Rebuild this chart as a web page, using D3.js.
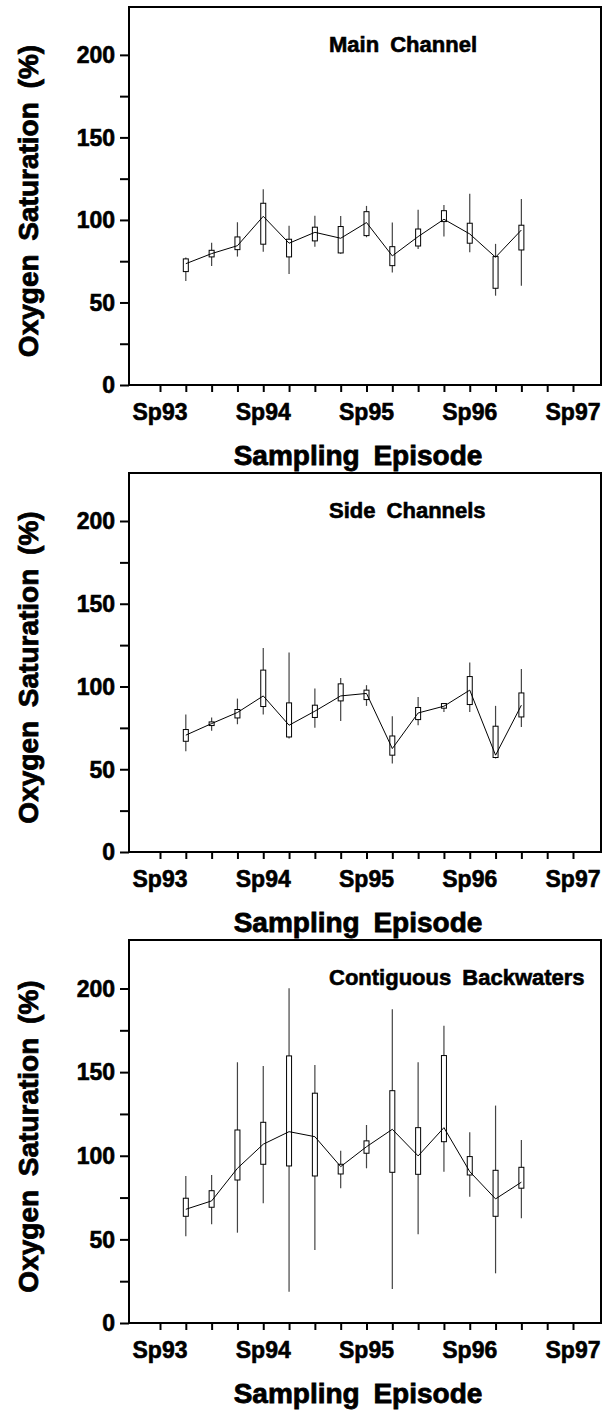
<!DOCTYPE html>
<html lang="en">
  <head>
    <meta charset="utf-8">
    <title>Oxygen saturation</title>
    <script src="https://cdn.jsdelivr.net/npm/d3@7"></script>
    <style>
      body { margin: 0; background: #fff; }
      text {
        font-family: "Liberation Sans", Arial, sans-serif;
        font-weight: bold;
        fill: #000;
        stroke: #000;
      }
      .tick-label { font-size: 23px; stroke-width: 0.6px; }
      .title { font-size: 22px; word-spacing: 5px; stroke-width: 0.6px; }
      .axis-title { font-size: 28px; word-spacing: 6px; stroke-width: 0.8px; }
    </style>
  </head>
  <body>
    <script>
      // sampling episodes, as quarter index after Sp93 (0 = Sp93)
      var episodes = [1, 2, 3, 4, 5, 6, 7, 8, 9, 10, 11, 12, 13, 14];
      var xTickLabels = ["Sp93", "Sp94", "Sp95", "Sp96", "Sp97"];
      var xTickValues = [0, 4, 8, 12, 16];
      var yTickLabels = [0, 50, 100, 150, 200];

      var titles = ["Main Channel", "Side Channels", "Contiguous Backwaters"];

      // Main Channel
      var mainMean = [73.5, 79.6, 84.4, 102.2, 85.9, 92.5, 88.9, 98.4, 78.2, 89.9, 100.4, 91.5, 77.4, 93.9];
      var mainLo   = [68.7, 77.6, 82.0, 85.3, 77.6, 87.3, 80.0, 90.5, 72.3, 84.2, 99.0, 85.9, 58.6, 81.8];
      var mainHi   = [76.4, 81.6, 89.7, 110.1, 88.3, 95.6, 96.0, 105.0, 83.8, 94.5, 105.6, 98.0, 77.8, 96.8];
      var mainMin  = [63.0, 72.1, 77.8, 80.8, 67.3, 83.8, 79.5, 89.5, 68.1, 82.4, 89.9, 80.4, 54.1, 60.2];
      var mainMax  = [77.2, 86.2, 98.6, 118.6, 96.5, 102.6, 102.4, 108.5, 98.4, 106.1, 109.1, 115.8, 85.5, 112.7];

      // Side Channels
      var sideMean = [70.6, 77.6, 84.3, 94.3, 76.6, 85.1, 94.3, 95.8, 62.5, 84.0, 88.1, 97.8, 58.5, 88.7];
      var sideLo   = [66.9, 76.4, 81.0, 87.9, 69.5, 81.3, 91.3, 92.1, 58.5, 80.0, 86.9, 89.1, 57.1, 81.6];
      var sideHi   = [74.0, 78.6, 86.1, 109.9, 90.1, 88.7, 101.6, 97.8, 70.1, 87.3, 89.7, 106.0, 76.0, 96.1];
      var sideMin  = [60.9, 73.2, 77.2, 83.1, 68.6, 75.0, 79.2, 88.3, 53.4, 76.6, 84.6, 84.6, 56.5, 75.6];
      var sideMax  = [83.1, 81.3, 92.7, 123.3, 120.6, 98.8, 105.2, 100.8, 82.0, 93.7, 90.1, 114.5, 88.3, 110.5];

      // Contiguous Backwaters
      var backMean = [68.0, 73.0, 92.5, 106.9, 114.4, 111.4, 93.5, 105.4, 115.8, 99.9, 116.8, 90.5, 74.2, 84.2];
      var backLo   = [63.8, 69.2, 85.5, 94.9, 93.9, 87.9, 89.1, 101.5, 90.1, 88.9, 108.4, 88.5, 63.8, 80.6];
      var backHi   = [74.6, 79.1, 115.4, 120.0, 159.7, 137.4, 94.9, 108.9, 138.9, 116.8, 159.9, 99.5, 91.3, 93.1];
      var backMin  = [51.9, 59.0, 54.0, 71.6, 18.7, 43.7, 80.6, 92.5, 20.3, 53.1, 90.5, 75.5, 29.7, 62.6];
      var backMax  = [87.9, 88.5, 155.9, 153.7, 200.2, 154.3, 103.0, 118.4, 187.6, 155.9, 177.8, 114.1, 130.0, 109.4];

      var series = [
        [mainMean, mainLo, mainHi, mainMin, mainMax],
        [sideMean, sideLo, sideHi, sideMin, sideMax],
        [backMean, backLo, backHi, backMin, backMax]
      ];

      var w = 603;
      var h = 1414;
      var left = 129, right = 601;
      var panelTop = [7, 473, 940];
      var panelBottom = [385, 852, 1323];
      var yMax = 229;

      var svg = d3.select("body")
                  .append("svg")
                  .attr("width", w)
                  .attr("height", h);

      var xScale = d3.scaleLinear()
                     .domain([0, 16])
                     .range([160, 573]);

      series.forEach(function (s, p) {
        var top = panelTop[p], bottom = panelBottom[p];
        var yScale = d3.scaleLinear()
                       .domain([0, yMax])
                       .range([bottom, top]);

        var rows = episodes.map(function (e, i) {
          return {x: e, mean: s[0][i], lo: s[1][i], hi: s[2][i], min: s[3][i], max: s[4][i]};
        });

        var g = svg.append("g");

        // frame
        g.append("rect")
         .attr("x", left)
         .attr("y", top)
         .attr("width", right - left)
         .attr("height", bottom - top)
         .attr("fill", "none")
         .attr("stroke", "#000")
         .attr("stroke-width", 2);

        // x axis ticks (every quarter)
        var xAxis = d3.axisBottom(xScale)
                      .tickValues(d3.range(0, 17))
                      .tickSize(7)
                      .tickFormat("");
        g.append("g")
         .attr("transform", "translate(0," + bottom + ")")
         .call(xAxis)
         .call(function (a) {
           a.select(".domain").remove();
           a.selectAll("line").attr("stroke", "#000").attr("stroke-width", 2);
         });

        g.selectAll(".xlab")
         .data(xTickValues)
         .enter()
         .append("text")
         .attr("class", "tick-label")
         .attr("x", function (d) { return xScale(d); })
         .attr("y", bottom + 35)
         .attr("text-anchor", "middle")
         .text(function (d, i) { return xTickLabels[i]; });

        // y axis ticks
        var yAxis = d3.axisLeft(yScale)
                      .tickValues(d3.range(0, 201, 25))
                      .tickSize(9)
                      .tickFormat("");
        g.append("g")
         .attr("transform", "translate(" + left + ",0)")
         .call(yAxis)
         .call(function (a) {
           a.select(".domain").remove();
           a.selectAll("line").attr("stroke", "#000").attr("stroke-width", 2);
         });

        g.selectAll(".ylab")
         .data(yTickLabels)
         .enter()
         .append("text")
         .attr("class", "tick-label")
         .attr("x", 115)
         .attr("y", function (d) { return yScale(d); })
         .attr("dy", "0.36em")
         .attr("text-anchor", "end")
         .text(function (d) { return d; });

        // whiskers
        g.selectAll(".whisker")
         .data(rows)
         .enter()
         .append("line")
         .attr("x1", function (d) { return xScale(d.x); })
         .attr("x2", function (d) { return xScale(d.x); })
         .attr("y1", function (d) { return yScale(d.min); })
         .attr("y2", function (d) { return yScale(d.max); })
         .attr("stroke", "#444")
         .attr("stroke-width", 1.2);

        // boxes
        g.selectAll(".box")
         .data(rows)
         .enter()
         .append("rect")
         .attr("x", function (d) { return xScale(d.x) - 2.5; })
         .attr("y", function (d) { return yScale(d.hi); })
         .attr("width", 5)
         .attr("height", function (d) { return yScale(d.lo) - yScale(d.hi); })
         .attr("fill", "#fff")
         .attr("stroke", "#000")
         .attr("stroke-width", 1);

        // mean line
        var line = d3.line()
                     .x(function (d) { return xScale(d.x); })
                     .y(function (d) { return yScale(d.mean); });
        g.append("path")
         .datum(rows)
         .attr("d", line)
         .attr("fill", "none")
         .attr("stroke", "#000")
         .attr("stroke-width", 1);

        // panel title
        g.append("text")
         .attr("class", "title")
         .attr("x", 329)
         .attr("y", top + 45)
         .text(titles[p]);

        // axis titles
        g.append("text")
         .attr("class", "axis-title")
         .attr("text-anchor", "middle")
         .attr("x", 358)
         .attr("y", bottom + 80)
         .text("Sampling Episode");

        g.append("text")
         .attr("class", "axis-title")
         .attr("text-anchor", "middle")
         .attr("transform", "translate(38," + ((top + bottom) / 2 + 5) + ") rotate(-90)")
         .text("Oxygen Saturation (%)");
      });
    </script>
  </body>
</html>
